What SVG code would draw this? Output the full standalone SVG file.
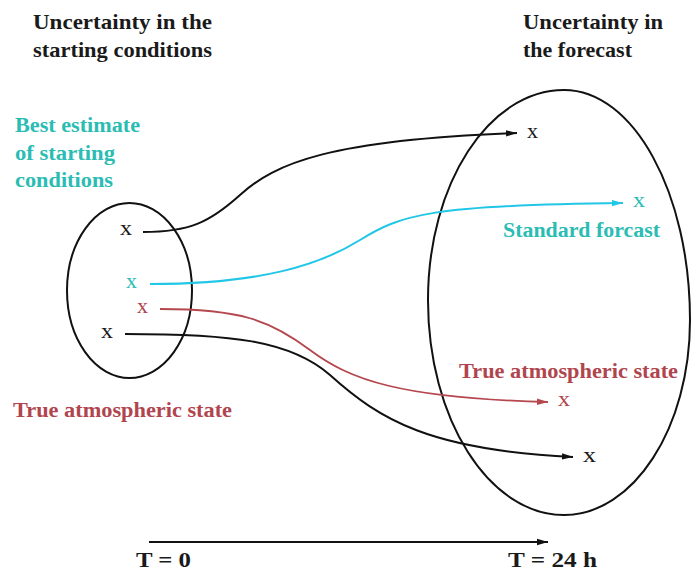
<svg xmlns="http://www.w3.org/2000/svg" width="694" height="574" viewBox="0 0 694 574">
<style>
text{font-family:"Liberation Serif","Times New Roman",serif;}
.h{font-size:21px;fill:#1a1a1a;font-weight:bold;}
.cy{font-size:20px;fill:#2bbcb4;font-weight:bold;}
.rd{font-size:20px;fill:#b0454e;font-weight:bold;}
.x{font-size:21px;}
.t{font-size:22px;fill:#1a1a1a;font-weight:bold;}
.ell{fill:none;stroke:#111;stroke-width:2;}
.cb{fill:none;stroke:#111;stroke-width:2;marker-end:url(#ab);}
.cc{fill:none;stroke:#22c6e6;stroke-width:2;marker-end:url(#ac);}
.cr{fill:none;stroke:#b5474f;stroke-width:1.8;marker-end:url(#ar);}
</style>
<defs>
<marker id="ab" markerUnits="userSpaceOnUse" markerWidth="12" markerHeight="8" refX="11" refY="4" orient="auto"><path d="M0,0.8 L11,4 L0,7.2 Z" fill="#111"/></marker>
<marker id="ac" markerUnits="userSpaceOnUse" markerWidth="12" markerHeight="8" refX="11" refY="4" orient="auto"><path d="M0,0.8 L11,4 L0,7.2 Z" fill="#22c6e6"/></marker>
<marker id="ar" markerUnits="userSpaceOnUse" markerWidth="12" markerHeight="8" refX="11" refY="4" orient="auto"><path d="M0,0.8 L11,4 L0,7.2 Z" fill="#b5474f"/></marker>
</defs>
<rect width="694" height="574" fill="#fff"/>
<g id="title-left">
<text class="h" x="33" y="29" textLength="179" lengthAdjust="spacingAndGlyphs">Uncertainty in the</text>
<text class="h" x="33" y="57" textLength="179" lengthAdjust="spacingAndGlyphs">starting conditions</text>
</g>
<g id="title-right">
<text class="h" x="523" y="29" textLength="140" lengthAdjust="spacingAndGlyphs">Uncertainty in</text>
<text class="h" x="523" y="57" textLength="109" lengthAdjust="spacingAndGlyphs">the forecast</text>
</g>
<g id="best-estimate-label">
<text class="cy" x="15" y="132" textLength="125" lengthAdjust="spacingAndGlyphs">Best estimate</text>
<text class="cy" x="15" y="160" textLength="100" lengthAdjust="spacingAndGlyphs">of starting</text>
<text class="cy" x="15" y="187" textLength="98" lengthAdjust="spacingAndGlyphs">conditions</text>
</g>
<g id="start-ellipse">
<ellipse class="ell" cx="129.5" cy="290.5" rx="62.5" ry="87.5"/>
<text class="x" x="120" y="235" fill="#1a1a1a" textLength="12" lengthAdjust="spacingAndGlyphs">x</text>
<text class="x" x="126" y="288" fill="#2bbcb4" textLength="11" lengthAdjust="spacingAndGlyphs">x</text>
<text class="x" x="137" y="313" fill="#b0454e" textLength="11" lengthAdjust="spacingAndGlyphs">x</text>
<text class="x" x="101" y="338" fill="#1a1a1a" textLength="12" lengthAdjust="spacingAndGlyphs">x</text>
</g>
<g id="true-state-left">
<text class="rd" x="13" y="417" textLength="219" lengthAdjust="spacingAndGlyphs">True atmospheric state</text>
</g>
<g id="forecast-ellipse">
<path class="ell" d="M564,90 C633.6,90 690,193 690,320 C690,427.7 633.6,515 564,515 C488.9,515 428,418.7 428,300 C428,184 488.9,90 564,90 Z"/>
<text class="x" x="527" y="138" fill="#1a1a1a" textLength="11" lengthAdjust="spacingAndGlyphs">x</text>
<text class="x" x="633" y="207" fill="#2bbcb4" textLength="12" lengthAdjust="spacingAndGlyphs">x</text>
<text class="x" x="558" y="406" fill="#b0454e" textLength="12" lengthAdjust="spacingAndGlyphs">x</text>
<text class="x" x="583" y="462" fill="#1a1a1a" textLength="13" lengthAdjust="spacingAndGlyphs">x</text>
</g>
<g id="standard-forecast-label">
<text class="cy" x="503" y="237" textLength="157" lengthAdjust="spacingAndGlyphs">Standard forcast</text>
</g>
<g id="true-state-right">
<text class="rd" x="459" y="378" textLength="219" lengthAdjust="spacingAndGlyphs">True atmospheric state</text>
</g>
<g id="connectors">
<path class="cb" d="M143,232 C190,232 210,222 240,195 C275,163 330,140 517,133"/>
<path class="cc" d="M150,284 C260,284 320,265 360,240 C400,215 430,205 623,203"/>
<path class="cr" d="M160,309 C240,309 270,320 310,350 C350,380 400,398 548,402"/>
<path class="cb" d="M125,334 C230,334 290,340 330,375 C380,420 430,450 573,457"/>
<path class="cb" d="M149,542 L548,542"/>
</g>
<g id="time-labels">
<text class="t" x="136" y="567" textLength="55" lengthAdjust="spacingAndGlyphs">T = 0</text>
<text class="t" x="508" y="567" textLength="89" lengthAdjust="spacingAndGlyphs">T = 24 h</text>
</g>
</svg>
